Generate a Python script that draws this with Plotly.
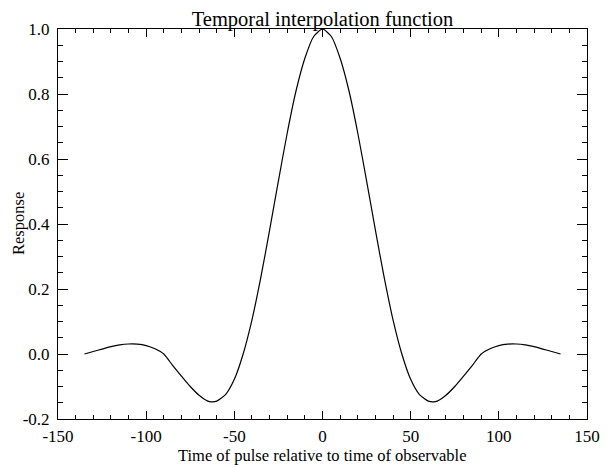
import plotly.graph_objects as go

# Time offsets (x) and response (y)
TIME = [-135, -130, -125, -120, -115, -110, -105, -100, -95, -90,
        -85, -80, -75, -70, -65, -63, -60, -55, -50, -45,
        -40, -35, -30, -25, -20, -15, -10, -5, 0,
        5, 10, 15, 20, 25, 30, 35, 40, 45,
        50, 55, 60, 63, 65, 70, 75, 80, 85,
        90, 95, 100, 105, 110, 115, 120, 125, 130, 135]
RESPONSE = [0.0, 0.0078, 0.015, 0.0225, 0.028, 0.0308, 0.0305, 0.026, 0.016, 0.0,
            -0.035, -0.068, -0.100, -0.127, -0.145, -0.147, -0.145, -0.125, -0.078, 0.0,
            0.105, 0.235, 0.381, 0.533, 0.680, 0.810, 0.910, 0.977, 1.0,
            0.977, 0.910, 0.810, 0.680, 0.533, 0.381, 0.235, 0.105, 0.0,
            -0.078, -0.125, -0.145, -0.147, -0.145, -0.127, -0.100, -0.068, -0.035,
            0.0, 0.016, 0.026, 0.0305, 0.0308, 0.028, 0.0225, 0.015, 0.0078, 0.0]

X_TICKS = [-150, -100, -50, 0, 50, 100, 150]
X_TICK_LABELS = ["-150", "-100", "-50", "0", "50", "100", "150"]
Y_TICKS = [-0.2, 0.0, 0.2, 0.4, 0.6, 0.8, 1.0]
Y_TICK_LABELS = ["-0.2", "0.0", "0.2", "0.4", "0.6", "0.8", "1.0"]

TITLE = "Temporal interpolation function"
X_LABEL = "Time of pulse relative to time of observable"
Y_LABEL = "Response"

FONT = "Liberation Serif, Times New Roman, serif"

# the page body adds an 8px offset, so the figure is 8px smaller on each side
W, H = 600, 459
ML, MR, MT, MB = 50, 21, 21, 48
PLOT_W = W - ML - MR
PLOT_H = H - MT - MB

fig = go.Figure()
fig.add_trace(go.Scatter(x=TIME, y=RESPONSE, mode="lines",
                         line=dict(color="black", width=1.2, shape="spline", smoothing=0.6),
                         showlegend=False, hoverinfo="skip"))

fig.update_layout(
    width=W, height=H,
    margin=dict(l=ML, r=MR, t=MT, b=MB, autoexpand=False),
    paper_bgcolor="white", plot_bgcolor="white",
    font=dict(family=FONT, color="black", size=17),
    title=dict(text=TITLE, x=0.5, xref="paper", xanchor="center",
               y=1 - 11 / H, yref="container", yanchor="middle",
               font=dict(family=FONT, size=20.5, color="black")),
    annotations=[
        dict(text=X_LABEL, xref="paper", yref="paper", x=0.5, y=-36 / PLOT_H,
             xanchor="center", yanchor="middle", showarrow=False,
             font=dict(family=FONT, size=16.5, color="black")),
        dict(text=Y_LABEL, xref="paper", yref="paper", x=-40 / PLOT_W, y=0.5,
             xanchor="center", yanchor="middle", showarrow=False, textangle=-90,
             font=dict(family=FONT, size=16.5, color="black")),
    ],
)

fig.update_xaxes(
    range=[-150, 150], showgrid=False, zeroline=False, automargin=False,
    showline=True, linecolor="black", linewidth=1, mirror="ticks",
    ticks="inside", ticklen=8, tickwidth=1, tickcolor="black",
    tickmode="array", tickvals=X_TICKS, ticktext=X_TICK_LABELS,
    ticklabelstandoff=2,
    minor=dict(ticks="inside", ticklen=4, tickwidth=1, tickcolor="black", dtick=10, showgrid=False),
    tickfont=dict(family=FONT, size=17, color="black"),
)
fig.update_yaxes(
    range=[-0.2, 1.0], showgrid=False, zeroline=False, automargin=False,
    showline=True, linecolor="black", linewidth=1, mirror="ticks",
    ticks="inside", ticklen=10, tickwidth=1, tickcolor="black",
    tickmode="array", tickvals=Y_TICKS, ticktext=Y_TICK_LABELS,
    ticklabelstandoff=4,
    minor=dict(ticks="inside", ticklen=5, tickwidth=1, tickcolor="black", dtick=0.05, showgrid=False),
    tickfont=dict(family=FONT, size=17, color="black"),
)

fig.write_html("out.html")
